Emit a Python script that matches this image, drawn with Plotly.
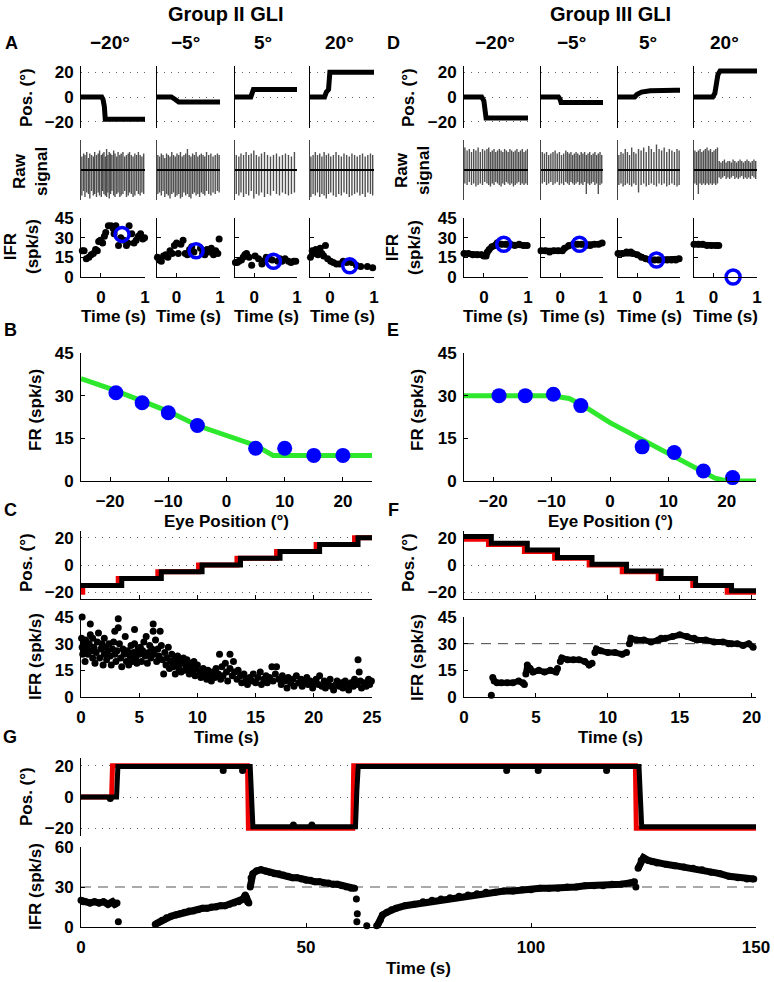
import plotly.graph_objects as go

W, H = 774, 982

# ---------------- data ----------------
COL_TITLES = ["−20°", "−5°", "5°", "20°"]

# Panel A / D : eye position traces (time s, position deg)
A_POS_T = [[-0.45, 0.02, 0.05, 0.08, 0.1, 1.0],
           [-0.45, -0.12, -0.03, 0.05, 1.0],
           [-0.45, -0.08, -0.05, -0.02, 1.0],
           [-0.45, -0.12, -0.08, -0.03, 0.0, 1.0]]
A_POS_Y = [[0, 0, -2, -8, -18, -18],
           [0, 0, -2, -4, -4],
           [0, 0, 3, 6, 6],
           [0, 0, 4, 6, 20, 20]]
D_POS_T = [[-0.45, -0.05, 0.0, 0.02, 0.05, 1.0],
           [-0.45, -0.04, 0.0, 0.02, 1.0],
           [-0.45, -0.06, -0.01, 0.05, 0.1, 0.3, 0.5, 0.7, 0.9, 1.0],
           [-0.45, -0.02, 0.03, 0.06, 0.1, 0.15, 1.0]]
D_POS_Y = [[0, 0, -3, -10, -17, -17],
           [0, 0, -2, -4.5, -4.5],
           [0, 0, 2, 3.5, 4, 5, 5.5, 5, 5.5, 5.5],
           [0, 0, 3, 10, 18, 21, 21]]

# Raw signal spikes: times, up amplitude, down amplitude (arbitrary units)
A_RAW_T = [
    [-0.43, -0.39, -0.36, -0.32, -0.28, -0.25, -0.21, -0.17, -0.14, -0.10, -0.06, -0.03, 0.01, 0.04, 0.07, 0.10, 0.13, 0.16, 0.19, 0.22,
     0.25, 0.29, 0.32, 0.36, 0.39, 0.43, 0.46, 0.50, 0.54, 0.58, 0.62, 0.65, 0.69, 0.73, 0.77, 0.81, 0.85, 0.89, 0.93, 0.97],
    [-0.43, -0.39, -0.35, -0.31, -0.27, -0.23, -0.19, -0.15, -0.11, -0.07, -0.03, 0.01, 0.05, 0.09, 0.13, 0.17, 0.21, 0.25, 0.29, 0.33,
     0.37, 0.41, 0.45, 0.49, 0.53, 0.57, 0.61, 0.65, 0.69, 0.74, 0.79, 0.84, 0.89, 0.94, 0.98],
    [-0.42, -0.36, -0.31, -0.25, -0.19, -0.13, -0.07, -0.01, 0.05, 0.11, 0.17, 0.24, 0.31, 0.38, 0.45, 0.52, 0.59, 0.66, 0.73, 0.8, 0.87, 0.94],
    [-0.43, -0.38, -0.33, -0.28, -0.23, -0.18, -0.13, -0.08, -0.03, 0.02, 0.08, 0.14, 0.2, 0.26, 0.32, 0.38, 0.44, 0.5, 0.56, 0.62,
     0.68, 0.74, 0.8, 0.86, 0.92, 0.97]]
A_RAW_UP = [
    [0.45, 0.55, 0.5, 0.6, 0.4, 0.55, 0.5, 0.45, 0.6, 0.5, 0.55, 0.65, 0.5, 0.55, 0.6, 0.45, 0.7, 0.5, 0.6, 0.55,
     0.5, 0.65, 0.55, 0.45, 0.6, 0.5, 0.55, 0.6, 0.45, 0.5, 0.55, 0.6, 0.5, 0.45, 0.55, 0.5, 0.6, 0.5, 0.45, 0.55],
    [0.5, 0.45, 0.55, 0.5, 0.4, 0.55, 0.5, 0.45, 0.6, 0.5, 0.45, 0.55, 0.5, 0.6, 0.45, 0.5, 0.55, 0.7, 0.5, 0.45,
     0.55, 0.5, 0.6, 0.45, 0.5, 0.55, 0.5, 0.45, 0.6, 0.5, 0.55, 0.45, 0.5, 0.55, 0.5],
    [0.5, 0.45, 0.55, 0.5, 0.6, 0.5, 0.55, 0.65, 0.5, 0.45, 0.55, 0.6, 0.5, 0.45, 0.5, 0.55, 0.45, 0.5, 0.55, 0.5, 0.45, 0.6],
    [0.45, 0.5, 0.6, 0.5, 0.55, 0.45, 0.6, 0.5, 0.55, 0.45, 0.5, 0.6, 0.5, 0.45, 0.55, 0.5, 0.45, 0.55, 0.5, 0.45,
     0.5, 0.55, 0.45, 0.5, 0.55, 0.5]]
A_RAW_DN = [
    [0.85, 0.7, 0.9, 0.75, 0.8, 0.95, 0.7, 0.85, 0.8, 0.9, 0.75, 0.85, 0.9, 0.7, 0.8, 0.85, 0.9, 0.75, 0.95, 0.8,
     0.7, 0.85, 0.9, 0.8, 0.75, 0.9, 0.85, 0.8, 0.7, 0.9, 0.85, 0.75, 0.8, 0.9, 0.85, 0.7, 0.8, 0.85, 0.75, 0.8],
    [0.8, 0.75, 0.85, 0.7, 0.9, 0.8, 0.85, 0.95, 0.8, 0.75, 0.9, 0.85, 0.8, 0.95, 0.9, 0.75, 0.85, 0.8, 0.9, 0.95,
     0.8, 0.75, 0.85, 0.8, 0.9, 0.75, 0.8, 0.85, 0.7, 0.8, 0.85, 0.75, 0.8, 0.7, 0.75],
    [0.8, 0.85, 0.75, 0.9, 0.8, 0.85, 0.7, 0.95, 0.8, 0.85, 0.75, 0.9, 0.8, 0.85, 0.7, 0.8, 0.85, 0.75, 0.8, 0.85, 0.8, 0.75],
    [0.9, 0.8, 0.85, 0.75, 0.9, 0.8, 0.85, 0.95, 0.8, 0.75, 0.85, 0.9, 0.8, 0.85, 0.75, 0.8, 0.9, 0.85, 0.8, 0.75,
     0.85, 0.8, 0.9, 0.75, 0.8, 0.85]]
D_RAW_T = [
    [-0.43, -0.38, -0.33, -0.28, -0.23, -0.18, -0.13, -0.08, -0.03, 0.02, 0.07, 0.11, 0.15, 0.19, 0.23, 0.27, 0.31, 0.35, 0.39, 0.43,
     0.47, 0.51, 0.55, 0.59, 0.63, 0.67, 0.71, 0.75, 0.79, 0.83, 0.87, 0.91, 0.95, 0.99],
    [-0.42, -0.37, -0.32, -0.27, -0.22, -0.17, -0.12, -0.07, -0.02, 0.03, 0.08, 0.13, 0.17, 0.21, 0.25, 0.29, 0.33, 0.37, 0.41, 0.45,
     0.49, 0.53, 0.57, 0.61, 0.65, 0.69, 0.73, 0.77, 0.81, 0.85, 0.89, 0.93, 0.97],
    [-0.43, -0.38, -0.33, -0.28, -0.23, -0.18, -0.13, -0.08, -0.03, 0.03, 0.09, 0.15, 0.21, 0.27, 0.33, 0.39, 0.45, 0.51, 0.57, 0.63,
     0.69, 0.75, 0.81, 0.87, 0.93, 0.98],
    [-0.43, -0.39, -0.35, -0.31, -0.27, -0.23, -0.19, -0.15, -0.11, -0.07, -0.03, 0.01, 0.05, 0.09, 0.13, 0.17, 0.21, 0.25, 0.29, 0.33,
     0.37, 0.41, 0.45, 0.49, 0.53, 0.57, 0.61, 0.65, 0.69, 0.73, 0.77, 0.81, 0.85, 0.89, 0.93, 0.97]]
D_RAW_UP = [
    [0.75, 0.65, 0.7, 0.6, 0.7, 0.65, 0.75, 0.6, 0.7, 0.65, 0.7, 0.75, 0.6, 0.65, 0.7, 0.6, 0.65, 0.7, 0.65, 0.6,
     0.7, 0.65, 0.6, 0.7, 0.65, 0.6, 0.65, 0.7, 0.6, 0.65, 0.7, 0.6, 0.65, 0.7],
    [0.6, 0.55, 0.6, 0.5, 0.55, 0.6, 0.65, 0.55, 0.6, 0.5, 0.55, 0.65, 0.6, 0.55, 0.6, 0.5, 0.55, 0.6, 0.55, 0.5,
     0.6, 0.55, 0.6, 0.5, 0.55, 0.6, 0.5, 0.55, 0.6, 0.5, 0.55, 0.6, 0.5],
    [0.5, 0.6, 0.55, 0.7, 0.6, 0.5, 0.75, 0.6, 0.55, 0.7, 0.65, 0.75, 0.6, 0.8, 0.7, 0.6, 0.85, 0.7, 0.65, 0.75,
     0.6, 0.7, 0.65, 0.6, 0.7, 0.65],
    [0.65, 0.6, 0.65, 0.7, 0.6, 0.65, 0.7, 0.75, 0.65, 0.7, 0.6, 0.65, 0.7, 0.75, 0.3, 0.25, 0.3, 0.35, 0.25, 0.3,
     0.3, 0.25, 0.35, 0.3, 0.25, 0.3, 0.35, 0.3, 0.25, 0.3, 0.35, 0.3, 0.25, 0.3, 0.35, 0.3]]
D_RAW_DN = [
    [0.45, 0.5, 0.4, 0.5, 0.45, 0.55, 0.5, 0.45, 0.5, 0.4, 0.45, 0.5, 0.55, 0.45, 0.5, 0.4, 0.45, 0.5, 0.55, 0.45,
     0.5, 0.4, 0.45, 0.5, 0.45, 0.55, 0.5, 0.45, 0.4, 0.5, 0.45, 0.5, 0.45, 0.5],
    [0.45, 0.4, 0.5, 0.45, 0.4, 0.5, 0.45, 0.4, 0.5, 0.45, 0.5, 0.4, 0.45, 0.5, 0.4, 0.45, 0.5, 0.45, 0.4, 0.5,
     0.45, 0.5, 0.4, 0.8, 0.45, 0.5, 0.45, 0.4, 0.5, 0.45, 0.8, 0.5, 0.45],
    [0.5, 0.45, 0.55, 0.5, 0.45, 0.5, 0.55, 0.45, 0.5, 0.75, 0.5, 0.45, 0.55, 0.5, 0.45, 0.5, 0.55, 0.45, 0.5, 0.45,
     0.55, 0.5, 0.45, 0.5, 0.55, 0.5],
    [0.45, 0.5, 0.8, 0.45, 0.5, 0.45, 0.5, 0.45, 0.5, 0.45, 0.5, 0.45, 0.5, 0.45, 0.25, 0.3, 0.25, 0.2, 0.3, 0.25,
     0.3, 0.25, 0.2, 0.3, 0.25, 0.3, 0.25, 0.2, 0.3, 0.25, 0.3, 0.25, 0.3, 0.2, 0.25, 0.3]]

# IFR (time s, spk/s) per column
A_IFR = [
    [(-0.42, 20), (-0.38, 20), (-0.33, 14), (-0.27, 15), (-0.22, 17), (-0.17, 18), (-0.12, 21), (-0.08, 20), (-0.05, 27),
     (-0.01, 28), (0.04, 26), (0.08, 31), (0.11, 34), (0.17, 39), (0.23, 39), (0.28, 37), (0.3, 33), (0.34, 39), (0.4, 24),
     (0.45, 30), (0.52, 28), (0.58, 24), (0.61, 26), (0.64, 39), (0.7, 33), (0.75, 26), (0.8, 28), (0.85, 31), (0.9, 33),
     (0.95, 29), (0.99, 30)],
    [(-0.44, 15), (-0.4, 13), (-0.35, 12), (-0.3, 16), (-0.25, 17), (-0.2, 15), (-0.15, 20), (-0.1, 18), (-0.05, 24),
     (0.0, 26), (0.04, 18), (0.1, 25), (0.15, 28), (0.2, 18), (0.25, 17), (0.3, 21), (0.35, 23), (0.4, 19), (0.55, 22),
     (0.6, 18), (0.65, 17), (0.7, 21), (0.75, 19), (0.8, 22), (0.85, 17), (0.9, 20), (0.95, 18), (0.98, 29)],
    [(-0.44, 11), (-0.4, 11), (-0.36, 12), (-0.3, 13), (-0.26, 15), (-0.22, 17), (-0.18, 18), (-0.12, 15), (-0.06, 9),
     (0.02, 16), (0.1, 14), (0.18, 10), (0.22, 12), (0.28, 15), (0.36, 14), (0.42, 13), (0.55, 12), (0.6, 14), (0.65, 12),
     (0.72, 14), (0.8, 12), (0.86, 11), (0.92, 12), (0.97, 12)],
    [(-0.44, 15), (-0.4, 20), (-0.36, 18), (-0.32, 21), (-0.27, 17), (-0.22, 22), (-0.18, 18), (-0.14, 16), (-0.1, 24),
     (-0.05, 14), (0.02, 12), (0.08, 11), (0.15, 10), (0.22, 10), (0.3, 12), (0.38, 11), (0.5, 11), (0.6, 9), (0.7, 8),
     (0.85, 8), (0.97, 7)]]
A_MEAN = [(0.48, 32.5), (0.45, 20), (0.45, 12), (0.45, 8.5)]

D_IFR = [
    [(-0.45, 18), (-0.35, 18), (-0.25, 17), (-0.15, 17), (-0.05, 17), (0.0, 16), (0.05, 16), (0.08, 19), (0.12, 21),
     (0.18, 23), (0.25, 24), (0.3, 26), (0.4, 25), (0.5, 25), (0.6, 25), (0.7, 24), (0.8, 25), (0.9, 24), (0.98, 24)],
    [(-0.45, 20), (-0.35, 20), (-0.25, 19), (-0.15, 20), (-0.05, 20), (0.05, 20), (0.1, 22), (0.2, 24), (0.3, 25),
     (0.4, 25), (0.5, 25), (0.6, 24), (0.7, 24), (0.8, 25), (0.9, 25), (0.98, 26)],
    [(-0.45, 18), (-0.35, 18), (-0.25, 19), (-0.15, 19), (-0.1, 18), (0.0, 17), (0.1, 15), (0.2, 14), (0.3, 13),
     (0.4, 13), (0.5, 13), (0.6, 13), (0.7, 13), (0.8, 13), (0.9, 13), (0.98, 14)],
    [(-0.45, 25), (-0.35, 25), (-0.25, 25), (-0.15, 24), (-0.05, 24), (0.05, 24), (0.12, 24)]]
D_MEAN = [(0.45, 25), (0.45, 25), (0.45, 13), (0.45, 0)]

# Panel B / E : rate-position
B_POS = [-19, -14.5, -10, -5, 5, 10, 15, 20]
B_FR = [31, 27.5, 24, 19.5, 11.5, 11.5, 9, 9]
B_FIT_X = [-25, -20, -15, -10, -5, 0, 5, 8, 25]
B_FIT_Y = [36, 32.5, 28.5, 24.5, 19.5, 16, 12.5, 9, 9]
E_POS = [-19, -14.5, -9.7, -5, 5.5, 11, 16, 21]
E_FR = [30, 30, 30.5, 26.5, 12, 10, 3.5, 1.2]
E_FIT_X = [-25, -10, -7, -5, 0, 5, 10, 15, 18, 20, 25]
E_FIT_Y = [30, 30, 29, 27, 20.5, 15, 9.5, 4, 1, 0, 0]

# Panel C : staircase
C_TGT_T = [0, 0.15, 3.2, 6.6, 10.1, 13.4, 16.8, 20.2, 23.5, 25]
C_TGT_Y = [-20, -15, -10, -5, 0, 5, 10, 15, 20, 20]
C_EYE_T = [0, 3.5, 6.9, 10.4, 13.7, 17.1, 20.5, 23.8, 25]
C_EYE_Y = [-15, -10, -5, 0, 5, 10, 15, 20, 20]
C_IFR = [
    (0.05, 33), (0.1, 28), (0.1, 45), (0.15, 24), (0.2, 30), (0.3, 26), (0.35, 20), (0.4, 32), (0.5, 27), (0.6, 24),
    (0.7, 30), (0.8, 41), (0.8, 35), (0.9, 26), (1.0, 22), (1.0, 33), (1.1, 28), (1.2, 19), (1.3, 25), (1.4, 31),
    (1.5, 36), (1.6, 46), (1.6, 22), (1.7, 27), (1.8, 30), (1.9, 18), (2.0, 24), (2.0, 33), (2.1, 28), (2.2, 21),
    (2.3, 26), (2.4, 30), (2.5, 23), (2.6, 18), (2.7, 27), (2.8, 31), (2.9, 37), (2.9, 24), (3.0, 20), (3.1, 26),
    (3.2, 44), (3.2, 39), (3.3, 30), (3.4, 22), (3.5, 17), (3.6, 27), (3.7, 24), (3.8, 34), (3.9, 20), (4.0, 26),
    (4.1, 18), (4.2, 23), (4.3, 29), (4.4, 20), (4.5, 25), (4.6, 38), (4.6, 30), (4.7, 22), (4.8, 19), (4.9, 27),
    (5.0, 24), (5.1, 28), (5.2, 20), (5.3, 26), (5.4, 31), (5.5, 23), (5.6, 34), (5.7, 19), (5.8, 25), (5.9, 29),
    (6.0, 22), (6.1, 27), (6.2, 41), (6.2, 37), (6.3, 24), (6.4, 32), (6.5, 20), (6.6, 27), (6.7, 23), (6.8, 37),
    (6.9, 29), (7.0, 21), (7.1, 13), (7.2, 25), (7.3, 18), (7.4, 22), (7.5, 28), (7.6, 16), (7.7, 20), (7.8, 24),
    (7.9, 17), (8.0, 21), (8.1, 13), (8.2, 18), (8.3, 23), (8.4, 16), (8.5, 20), (8.6, 14), (8.7, 19), (8.8, 22),
    (8.9, 15), (9.0, 18), (9.1, 21), (9.2, 16), (9.3, 13), (9.4, 19), (9.5, 17), (9.6, 14), (9.7, 20), (9.8, 12),
    (9.9, 16), (10.0, 18), (10.2, 14), (10.3, 11), (10.5, 16), (10.6, 13), (10.8, 10), (10.9, 15), (11.0, 12),
    (11.2, 9), (11.3, 14), (11.5, 11), (11.6, 16), (11.8, 13), (11.9, 24), (12.0, 10), (12.1, 17), (12.2, 12),
    (12.4, 19), (12.5, 14), (12.6, 9), (12.8, 24), (12.8, 16), (13.0, 12), (13.1, 20), (13.2, 14), (13.4, 10),
    (13.5, 15), (13.7, 12), (13.8, 8), (14.0, 13), (14.2, 10), (14.3, 7), (14.5, 11), (14.7, 9), (14.8, 13),
    (15.0, 8), (15.2, 11), (15.4, 14), (15.5, 7), (15.7, 10), (15.9, 12), (16.0, 8), (16.2, 11), (16.4, 17),
    (16.5, 9), (16.7, 13), (16.8, 17), (17.0, 10), (17.2, 7), (17.3, 12), (17.5, 9), (17.7, 5), (17.8, 11),
    (18.0, 8), (18.2, 10), (18.3, 6), (18.5, 12), (18.7, 8), (18.9, 10), (19.0, 6), (19.2, 9), (19.4, 11),
    (19.5, 7), (19.7, 9), (19.9, 5), (20.0, 8), (20.2, 10), (20.4, 7), (20.5, 12), (20.7, 6), (20.9, 9),
    (21.0, 5), (21.2, 8), (21.4, 10), (21.5, 6), (21.7, 4), (21.9, 7), (22.0, 9), (22.2, 6), (22.4, 8),
    (22.5, 5), (22.7, 9), (22.9, 7), (23.0, 4), (23.2, 8), (23.4, 6), (23.5, 10), (23.7, 7), (23.8, 21),
    (23.9, 14), (24.0, 9), (24.1, 5), (24.3, 8), (24.5, 6), (24.7, 10), (24.8, 7), (24.95, 9)]

# Panel F
F_TGT_T = [0, 1.7, 4.2, 6.3, 8.7, 11.0, 13.5, 15.9, 18.3, 20.3]
F_TGT_Y = [19, 15, 10, 5, 0, -5, -10, -15, -20, -20]
F_EYE_T = [0, 1.9, 4.4, 6.5, 8.9, 11.3, 13.7, 16.1, 18.6, 20.3]
F_EYE_Y = [21, 16, 11, 5.5, 0.5, -4.5, -10, -15, -19, -19]
F_IFR_SEG = [
    [(2.0, 11), (2.1, 9), (2.3, 8), (2.6, 8), (3.0, 8), (3.4, 8), (3.8, 9), (4.1, 8), (4.2, 7)],
    [(4.3, 13), (4.4, 18), (4.6, 16), (4.8, 14), (5.2, 15), (5.6, 14), (6.0, 15), (6.4, 14), (6.5, 16)],
    [(6.7, 20), (6.8, 22), (7.2, 21), (7.6, 21), (8.0, 21), (8.4, 20), (8.7, 18), (8.9, 19)],
    [(9.1, 25), (9.2, 27), (9.5, 26), (10.0, 25), (10.5, 25), (11.0, 24), (11.3, 25)],
    [(11.5, 30), (11.6, 33), (12.0, 32), (12.5, 32), (13.0, 31), (13.5, 32), (13.7, 33), (14.0, 33), (14.5, 34),
     (15.0, 35), (15.5, 34), (16.0, 33), (16.2, 32), (16.8, 32), (17.4, 31), (18.0, 31), (18.4, 30), (18.6, 30),
     (19.0, 30), (19.4, 29), (19.8, 30), (20.1, 28)]]
F_IFR_DOTS = [(1.9, 1)]
F_REF = 30

# Panel G
G_TGT_T = [0, 6.8, 7.0, 37.0, 37.2, 60.4, 60.6, 123.2, 123.4, 150]
G_TGT_Y = [0, 0, 20, 20, -20, -20, 20, 20, -20, -20]
G_EYE_T = [0, 7.9, 8.2, 37.6, 38.2, 61.0, 61.3, 61.6, 124.0, 124.6, 150]
G_EYE_Y = [0, 0, 19.5, 19.5, -19, -19, 4, 19.5, 19.5, -19, -19]
G_EYE_BLIPS = [(6.5, -1), (31.6, 17), (35.9, 17), (47.2, -18), (51.3, -18), (94.6, 17), (101.6, 17), (116.8, 17)]
G_IFR_SEG = [
    [(0, 20), (0.5, 19), (1, 19), (2, 18), (3, 19), (4, 18), (5, 19), (6, 17), (6.5, 18), (7, 19), (7.5, 17), (8, 18)],
    [(16.5, 2), (17, 3), (17.5, 4), (18, 5), (19, 7), (20, 8), (21, 9), (22, 10), (23, 11), (24, 12), (25, 12),
     (26, 13), (27, 14), (28, 14), (29, 15), (30, 15), (31, 16), (32, 16), (33, 17), (34, 18), (35, 19), (35.5, 20),
     (36, 21), (36.5, 24), (37, 19), (37.3, 18)],
    [(37.6, 30), (37.8, 37), (38.2, 40), (39, 42), (40, 43), (41, 42), (42, 41), (43, 40), (44, 40), (45, 39),
     (46, 38), (47, 37), (48, 37), (49, 36), (50, 35), (51, 35), (52, 34), (53, 34), (54, 33), (55, 33), (56, 32),
     (57, 32), (58, 31), (59, 30), (60, 29), (60.8, 29)],
    [(66, 2), (66.5, 5), (67, 9), (68, 11), (69, 13), (70, 14), (72, 16), (74, 17), (76, 19), (78, 20), (80, 21),
     (82, 22), (84, 23), (86, 24), (88, 25), (90, 26), (92, 26), (94, 27), (96, 27), (98, 28), (100, 28), (102, 29),
     (104, 29), (106, 29), (108, 30), (110, 30), (112, 31), (114, 31), (116, 31), (118, 32), (120, 32), (122, 33),
     (123, 34)],
    [(123.8, 44), (124.5, 50), (125, 52), (126, 50), (127, 49), (128, 48), (130, 47), (132, 46), (134, 45),
     (136, 44), (138, 43), (140, 41), (142, 40), (144, 38), (146, 37), (148, 36), (149.5, 36)]]
G_IFR_DOTS = [(8.3, 4), (36.8, 22), (61.2, 21), (61.4, 10), (61.3, 4), (63.5, 1), (65.7, 1), (123.3, 30)]
G_REF = 30

# ---------------- styling ----------------
BLUE = "#0000ff"
GREEN = "#2ee82e"
RED = "#ee0000"
FONT = "Liberation Sans, Arial, sans-serif"
TICK_SIZE = 17
LAB_SIZE = 17

fig = go.Figure()
layout = {}
cnt = [0]


def new_axes(x0, x1, y0, y1, xr, yr):
    cnt[0] += 1
    i = cnt[0]
    s = "" if i == 1 else str(i)
    base = dict(showgrid=False, zeroline=False, showline=False, ticks="",
                showticklabels=False, fixedrange=True, automargin=False)
    xa = dict(base, domain=[x0 / W, x1 / W], range=xr, anchor="y" + s)
    ya = dict(base, domain=[1 - y1 / H, 1 - y0 / H], range=yr, anchor="x" + s)
    layout["xaxis" + s] = xa
    layout["yaxis" + s] = ya
    return "x" + s, "y" + s, xa, ya


LINE = dict(showline=True, linecolor="black", linewidth=1)
TICK = dict(ticks="inside", ticklen=4, tickcolor="black", tickwidth=1)
GRID = dict(showgrid=True, gridcolor="#666", gridwidth=1, griddash="1px,6px")


def xlab(xa):
    xa.update(**LINE, **TICK, showticklabels=True, ticklabelstandoff=5)


def ylab(ya, show=True):
    ya.update(**LINE, **TICK, showticklabels=show, ticklabelstandoff=3)


annots = []


def ann(text, x, y, size=LAB_SIZE, angle=0):
    annots.append(dict(text=text, x=x / W, y=1 - y / H, xref="paper", yref="paper",
                       showarrow=False, textangle=angle, xanchor="center", yanchor="middle",
                       font=dict(size=size, family=FONT, color="black", weight="bold")))


def spikes(ts, ups, dns):
    xs, ys = [], []
    for t, u, d in zip(ts, ups, dns):
        xs += [t, t, None]
        ys += [-d, u, None]
    return xs, ys


def split(pts):
    return [p[0] for p in pts], [p[1] for p in pts]


def seg_line(segs):
    xs, ys = [], []
    for s in segs:
        a, b = split(s)
        xs += a + [None]
        ys += b + [None]
    return xs, ys


TR = [-0.45, 1.0]
COLS = {"A": [(81, 145), (157, 220), (235, 297), (310, 374)],
        "D": [(464, 528), (541, 603), (618, 680), (694, 757)]}
SETS = {"A": (A_POS_T, A_POS_Y, A_RAW_T, A_RAW_UP, A_RAW_DN, A_IFR, A_MEAN),
        "D": (D_POS_T, D_POS_Y, D_RAW_T, D_RAW_UP, D_RAW_DN, D_IFR, D_MEAN)}

for key in ["A", "D"]:
    pt, py, rt, ru, rd, ifr, mean = SETS[key]
    for c, (x0, x1) in enumerate(COLS[key]):
        # position
        xn, yn, xa, ya = new_axes(x0, x1, 66, 128, TR, [-25, 25])
        ya.update(**LINE, **GRID, tickvals=[-20, 0, 20], showticklabels=(c == 0), ticklabelstandoff=3)
        fig.add_trace(go.Scatter(x=pt[c], y=py[c], mode="lines", line=dict(color="black", width=5),
                                 xaxis=xn, yaxis=yn, showlegend=False))
        # raw
        xn, yn, xa, ya = new_axes(x0, x1, 140, 200, TR, [-1, 1])
        ya.update(showline=True, linecolor="#444", linewidth=1)
        sx, sy = spikes(rt[c], ru[c], rd[c])
        fig.add_trace(go.Scatter(x=sx, y=sy, mode="lines", line=dict(color="#505050", width=1.4),
                                 xaxis=xn, yaxis=yn, showlegend=False))
        fig.add_trace(go.Scatter(x=TR, y=[0, 0], mode="lines", line=dict(color="black", width=2),
                                 xaxis=xn, yaxis=yn, showlegend=False))
        # IFR
        xn, yn, xa, ya = new_axes(x0, x1, 218, 277, TR, [0, 45])
        xlab(xa)
        xa.update(tickvals=[0, 1])
        ylab(ya, c == 0)
        ya.update(tickvals=[0, 15, 30, 45])
        ix, iy = split(ifr[c])
        if key == "A":
            fig.add_trace(go.Scatter(x=ix, y=iy, mode="markers", marker=dict(color="black", size=7),
                                     xaxis=xn, yaxis=yn, showlegend=False, cliponaxis=False))
        else:
            fig.add_trace(go.Scatter(x=ix, y=iy, mode="lines+markers", line=dict(color="black", width=6),
                                     marker=dict(color="black", size=7),
                                     xaxis=xn, yaxis=yn, showlegend=False, cliponaxis=False))
        fig.add_trace(go.Scatter(x=[mean[c][0]], y=[mean[c][1]], mode="markers",
                                 marker=dict(symbol="circle-open", color=BLUE, size=14, line=dict(width=3.5, color=BLUE)),
                                 xaxis=xn, yaxis=yn, showlegend=False, cliponaxis=False))
        ann(COL_TITLES[c], (x0 + x1) / 2 - (3 if key == "A" else 1), 43, 19)
        ann("Time (s)", (x0 + x1) / 2, 317)

# B and E
for (x0, x1), px, fr, fx_, fy_ in [((81, 372), B_POS, B_FR, B_FIT_X, B_FIT_Y),
                                     ((464, 756), E_POS, E_FR, E_FIT_X, E_FIT_Y)]:
    xn, yn, xa, ya = new_axes(x0, x1, 353, 481, [-25, 25], [0, 45])
    xlab(xa)
    xa.update(tickvals=[-20, -10, 0, 10, 20])
    ylab(ya)
    ya.update(tickvals=[0, 15, 30, 45])
    fig.add_trace(go.Scatter(x=fx_, y=fy_, mode="lines", line=dict(color=GREEN, width=5),
                             xaxis=xn, yaxis=yn, showlegend=False, cliponaxis=False))
    fig.add_trace(go.Scatter(x=px, y=fr, mode="markers", marker=dict(color=BLUE, size=15),
                             xaxis=xn, yaxis=yn, showlegend=False, cliponaxis=False))
    ann("Eye Position (°)", (x0 + x1) / 2, 521)

# C and F
for (x0, x1), xr, ticks, tt, ty, et, ey in [((81, 372), [0, 25], [0, 5, 10, 15, 20, 25], C_TGT_T, C_TGT_Y, C_EYE_T, C_EYE_Y),
                                           ((464, 756), [0, 20.3], [0, 5, 10, 15, 20], F_TGT_T, F_TGT_Y, F_EYE_T, F_EYE_Y)]:
    xn, yn, xa, ya = new_axes(x0, x1, 531, 599, xr, [-25, 25])
    xa.update(**LINE, **TICK, tickvals=ticks)
    ya.update(**LINE, **GRID, tickvals=[-20, 0, 20], showticklabels=True, ticklabelstandoff=3)
    fig.add_trace(go.Scatter(x=tt, y=ty, mode="lines", line=dict(color=RED, width=5, shape="hv"),
                             xaxis=xn, yaxis=yn, showlegend=False))
    fig.add_trace(go.Scatter(x=et, y=ey, mode="lines", line=dict(color="black", width=5, shape="hv"),
                             xaxis=xn, yaxis=yn, showlegend=False))
    xn2, yn2, xa2, ya2 = new_axes(x0, x1, 617, 697, xr, [0, 45])
    xlab(xa2)
    xa2.update(tickvals=ticks)
    ylab(ya2)
    ya2.update(tickvals=[0, 15, 30, 45])
    if x0 < 300:
        cx, cy = split(C_IFR)
        fig.add_trace(go.Scatter(x=cx, y=cy, mode="markers", marker=dict(color="black", size=7),
                                 xaxis=xn2, yaxis=yn2, showlegend=False, cliponaxis=False))
    else:
        fig.add_trace(go.Scatter(x=xr, y=[F_REF, F_REF], mode="lines", line=dict(color="#444", width=1, dash="10px,7px"),
                                 xaxis=xn2, yaxis=yn2, showlegend=False))
        sx, sy = seg_line(F_IFR_SEG)
        fig.add_trace(go.Scatter(x=sx, y=sy, mode="lines+markers", line=dict(color="black", width=6),
                                 marker=dict(color="black", size=7), xaxis=xn2, yaxis=yn2, showlegend=False,
                                 cliponaxis=False))
        dx, dy = split(F_IFR_DOTS)
        fig.add_trace(go.Scatter(x=dx, y=dy, mode="markers", marker=dict(color="black", size=7),
                                 xaxis=xn2, yaxis=yn2, showlegend=False, cliponaxis=False))
    ann("Time (s)", (x0 + x1) / 2, 737)

# G
xn, yn, xa, ya = new_axes(81, 756, 758, 836, [0, 150], [-25, 25])
ya.update(**LINE, **GRID, tickvals=[-20, 0, 20], showticklabels=True, ticklabelstandoff=3)
fig.add_trace(go.Scatter(x=G_TGT_T, y=G_TGT_Y, mode="lines", line=dict(color=RED, width=5),
                         xaxis=xn, yaxis=yn, showlegend=False))
fig.add_trace(go.Scatter(x=G_EYE_T, y=G_EYE_Y, mode="lines", line=dict(color="black", width=5),
                         xaxis=xn, yaxis=yn, showlegend=False))
bx, by = split(G_EYE_BLIPS)
fig.add_trace(go.Scatter(x=bx, y=by, mode="markers", marker=dict(color="black", size=7),
                         xaxis=xn, yaxis=yn, showlegend=False))
xn, yn, xa, ya = new_axes(81, 756, 847, 927, [0, 150], [0, 60])
xlab(xa)
xa.update(tickvals=[0, 50, 100, 150])
ylab(ya)
ya.update(tickvals=[0, 30, 60])
fig.add_trace(go.Scatter(x=[0, 150], y=[G_REF, G_REF], mode="lines", line=dict(color="#555", width=1, dash="10px,7px"),
                         xaxis=xn, yaxis=yn, showlegend=False))
sx, sy = seg_line(G_IFR_SEG)
fig.add_trace(go.Scatter(x=sx, y=sy, mode="lines+markers", line=dict(color="black", width=7),
                         marker=dict(color="black", size=7), xaxis=xn, yaxis=yn, showlegend=False, cliponaxis=False))
dx, dy = split(G_IFR_DOTS)
fig.add_trace(go.Scatter(x=dx, y=dy, mode="markers", marker=dict(color="black", size=7),
                         xaxis=xn, yaxis=yn, showlegend=False, cliponaxis=False))
ann("Time (s)", 418, 968)

# headers, panel letters, y titles
ann("Group II GLI", 226, 14, 20)
ann("Group III GLI", 610, 14, 20)
for t, x, y in [("A", 11, 43), ("D", 393, 43), ("B", 10, 330), ("E", 393, 330),
                ("C", 10, 510), ("F", 393, 510), ("G", 10, 737)]:
    ann(t, x, y, 18)

for dx in [0, 382]:
    ann("Pos. (°)", 26 + dx, 98, LAB_SIZE, -90)
    ann("Raw<br>signal", 31 + dx, 171, LAB_SIZE, -90)
    ann("IFR<br>(spk/s)", 21 + dx, 247, LAB_SIZE, -90)
    ann("FR (spk/s)", 35 + dx, 410, LAB_SIZE, -90)
    ann("Pos. (°)", 26 + dx, 563, LAB_SIZE, -90)
    ann("IFR (spk/s)", 35 + dx, 657, LAB_SIZE, -90)
ann("Pos. (°)", 26, 797, LAB_SIZE, -90)
ann("IFR (spk/s)", 35, 887, LAB_SIZE, -90)

layout.update(width=W, height=H, margin=dict(l=0, r=0, t=0, b=0, pad=0, autoexpand=False), autosize=False,
              paper_bgcolor="white", plot_bgcolor="white", showlegend=False, hovermode=False,
              font=dict(family=FONT, size=TICK_SIZE, color="black", weight="bold"),
              annotations=annots)
fig.update_layout(**layout)
fig.write_html("out.html",
               config={"displayModeBar": False, "staticPlot": True},
               post_script="document.body.style.margin='0';document.body.style.overflow='hidden';")
